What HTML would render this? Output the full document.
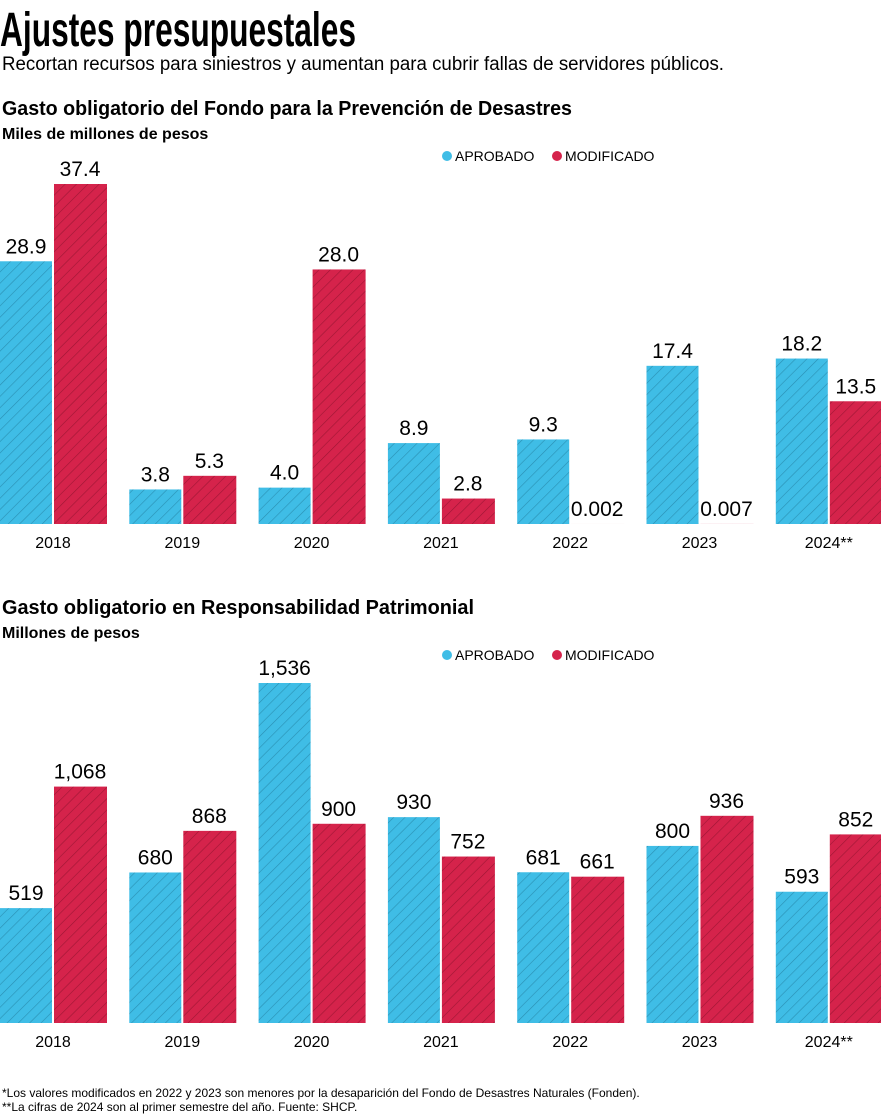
<!DOCTYPE html>
<html><head><meta charset="utf-8"><style>
body{margin:0;width:881px;height:1114px;overflow:hidden;background:#fff;font-family:"Liberation Sans",sans-serif;color:#111}
svg{position:absolute;left:0;top:0}
</style></head><body>
<svg id="s" width="881" height="1114">
<defs>
<pattern id="hb" width="8" height="8" patternUnits="userSpaceOnUse" patternTransform="rotate(45)"><rect width="8" height="8" fill="#3fbde6"/><line x1="0" y1="0" x2="0" y2="8" stroke="#2a8fb3" stroke-width="1.2"/></pattern>
<pattern id="hr" width="8" height="8" patternUnits="userSpaceOnUse" patternTransform="rotate(45)"><rect width="8" height="8" fill="#d5234b"/><line x1="0" y1="0" x2="0" y2="8" stroke="#9e1634" stroke-width="1.2"/></pattern>
</defs>
<text x="0" y="46" font-family="Liberation Sans Narrow, Liberation Sans, sans-serif" font-size="48" font-weight="bold" textLength="356" lengthAdjust="spacingAndGlyphs">Ajustes presupuestales</text>
<text x="2" y="70" font-size="19" textLength="722" lengthAdjust="spacingAndGlyphs">Recortan recursos para siniestros y aumentan para cubrir fallas de servidores públicos.</text>
<text x="2" y="115" font-size="20" font-weight="bold" textLength="570" lengthAdjust="spacingAndGlyphs">Gasto obligatorio del Fondo para la Prevención de Desastres</text>
<text x="2" y="139" font-size="16" font-weight="bold">Miles de millones de pesos</text>
<text x="2" y="614" font-size="20" font-weight="bold" textLength="472" lengthAdjust="spacingAndGlyphs">Gasto obligatorio en Responsabilidad Patrimonial</text>
<text x="2" y="638" font-size="16" font-weight="bold">Millones de pesos</text>
<text x="2" y="1097" font-size="12">*Los valores modificados en 2022 y 2023 son menores por la desaparición del Fondo de Desastres Naturales (Fonden).</text>
<text x="2" y="1111" font-size="12">**La cifras de 2024 son al primer semestre del año. Fuente: SHCP.</text>
</svg>
<script>
const years=["2018","2019","2020","2021","2022","2023","2024**"];
const apro1=[28.9,3.8,4.0,8.9,9.3,17.4,18.2];
const modi1=[37.4,5.3,28.0,2.8,0.002,0.007,13.5];
const aproLbl1=["28.9","3.8","4.0","8.9","9.3","17.4","18.2"];
const modiLbl1=["37.4","5.3","28.0","2.8","0.002","0.007","13.5"];
const apro2=[519,680,1536,930,681,800,593];
const modi2=[1068,868,900,752,661,936,852];
const aproLbl2=["519","680","1,536","930","681","800","593"];
const modiLbl2=["1,068","868","900","752","661","936","852"];
const svg=document.getElementById('s');
const NS="http://www.w3.org/2000/svg";
function mk(t,a,p){const e=document.createElementNS(NS,t);for(const k in a)e.setAttribute(k,a[k]);(p||svg).appendChild(e);return e;}
function chart(id,base,scale,A,M,AL,ML,legY){
  const g=mk('g',{});
  
  
  const y=v=>base-v*scale;
  const x=i=>i*129.3;
  years.forEach((yr,i)=>{
    const bx=x(i);
    const b1=mk('rect',{x:bx,y:y(A[i]),width:52,height:base-y(A[i]),fill:'url(#hb)'},g);
    
    
    const b2=mk('rect',{x:bx+54,y:y(M[i]),width:53,height:base-y(M[i]),fill:'url(#hr)'},g);
    
    
    const t1=mk('text',{x:bx+26,y:y(A[i])-8,'font-size':21,'text-anchor':'middle'},g);t1.textContent=AL[i];
    
    
    const t2=mk('text',{x:bx+80,y:y(M[i])-8,'font-size':21,'text-anchor':'middle'},g);t2.textContent=ML[i];
    
    
    const t3=mk('text',{x:bx+53,y:base+24,'font-size':16,'text-anchor':'middle'},g);t3.textContent=yr;
    
    
  });
  const l1=mk('circle',{cx:447,cy:legY-5,r:5,fill:'#3fbde6'},g);
  
  
  const lt1=mk('text',{x:455,y:legY,'font-size':14},g);lt1.textContent='APROBADO';
  
  
  const l2=mk('circle',{cx:557,cy:legY-5,r:5,fill:'#d5234b'},g);
  
  
  const lt2=mk('text',{x:565,y:legY,'font-size':14},g);lt2.textContent='MODIFICADO';
  
  
}
chart('chart-fondo-desastres',524,340/37.4,apro1,modi1,aproLbl1,modiLbl1,161);
chart('chart-responsabilidad',1023,340/1536,apro2,modi2,aproLbl2,modiLbl2,660);
</script>
</body></html>
